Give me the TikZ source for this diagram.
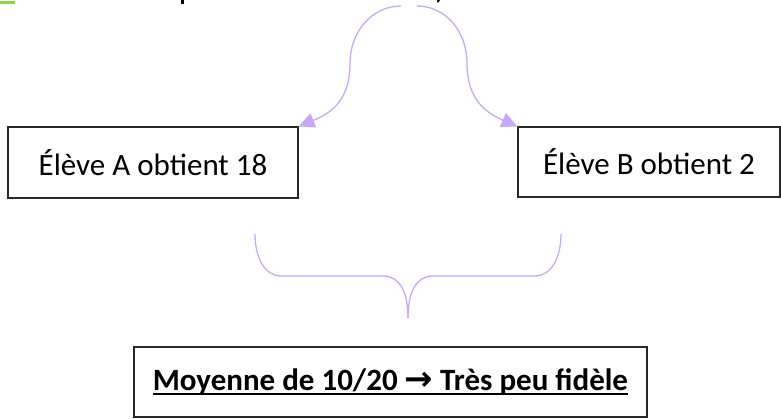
\documentclass[tikz,border=0pt]{standalone}
\usepackage{fontspec}
\setmainfont{Carlito}
\newfontfamily\arrowfont{DejaVu Sans}
\newsavebox\ulbox
\newcommand\myuline[1]{\sbox\ulbox{#1}\rlap{\rule[-5pt]{\wd\ulbox}{2pt}}\usebox\ulbox}
\usetikzlibrary{arrows.meta}
\definecolor{lav}{RGB}{200,168,250}
\definecolor{grn}{RGB}{146,208,80}
\definecolor{edge}{RGB}{40,40,40}
\tikzset{
  box/.style={draw=edge, line width=1.1pt, inner sep=0pt, font=\fontsize{31}{37}\selectfont},
  lavline/.style={draw=lav, line width=1.3pt},
  lavarrow/.style={lavline, -{Triangle[length=16pt,width=15pt,fill=lav]}}
}
\begin{document}
\begin{tikzpicture}[x=1pt,y=-1pt]
\useasboundingbox (0,0) rectangle (781,419);
% clipped remnants at the top edge
\fill[grn] (0,1.5) rectangle (15,4.5);
\fill[black] (181,0) rectangle (183.5,4);
\fill[black] (437,0) -- (440,0) -- (438.5,2.5) -- (437,2.5) -- cycle;

\node[box, minimum width=290pt, minimum height=71pt] (A) at (153,162.5) {Élève A obtient 18};
\node[box, minimum width=262pt, minimum height=70pt] (B) at (649,162) {Élève B obtient 2};
\node[box, minimum width=513pt, minimum height=70pt] (C) at (390.5,382)
  {\bfseries\myuline{Moyenne de 10/20 {\arrowfont\bfseries\fontsize{34}{37}\selectfont→} Très peu fidèle}};

\coordinate (tl) at (401,6);
\coordinate (tr) at (417,6);
\draw[lavarrow] (tl) .. controls (372,6) and (350,32) .. (350,63)
  .. controls (350,98) and (334,112) .. (A.north east);
\draw[lavarrow] (tr) .. controls (446,6) and (467,32) .. (467,63)
  .. controls (467,98) and (484,112) .. (B.north west);

% brace
\coordinate (bl) at (255,234);
\coordinate (br) at (561,234);
\coordinate (bm) at (408,318);
\draw[lavline] (bl) .. controls (255,258) and (265,276) .. (281,276) -- (383,276)
  .. controls (400,276) and (408,292) .. (bm);
\draw[lavline] (br) .. controls (561,258) and (551,276) .. (535,276) -- (433,276)
  .. controls (416,276) and (408,292) .. (bm);
\end{tikzpicture}
\end{document}
